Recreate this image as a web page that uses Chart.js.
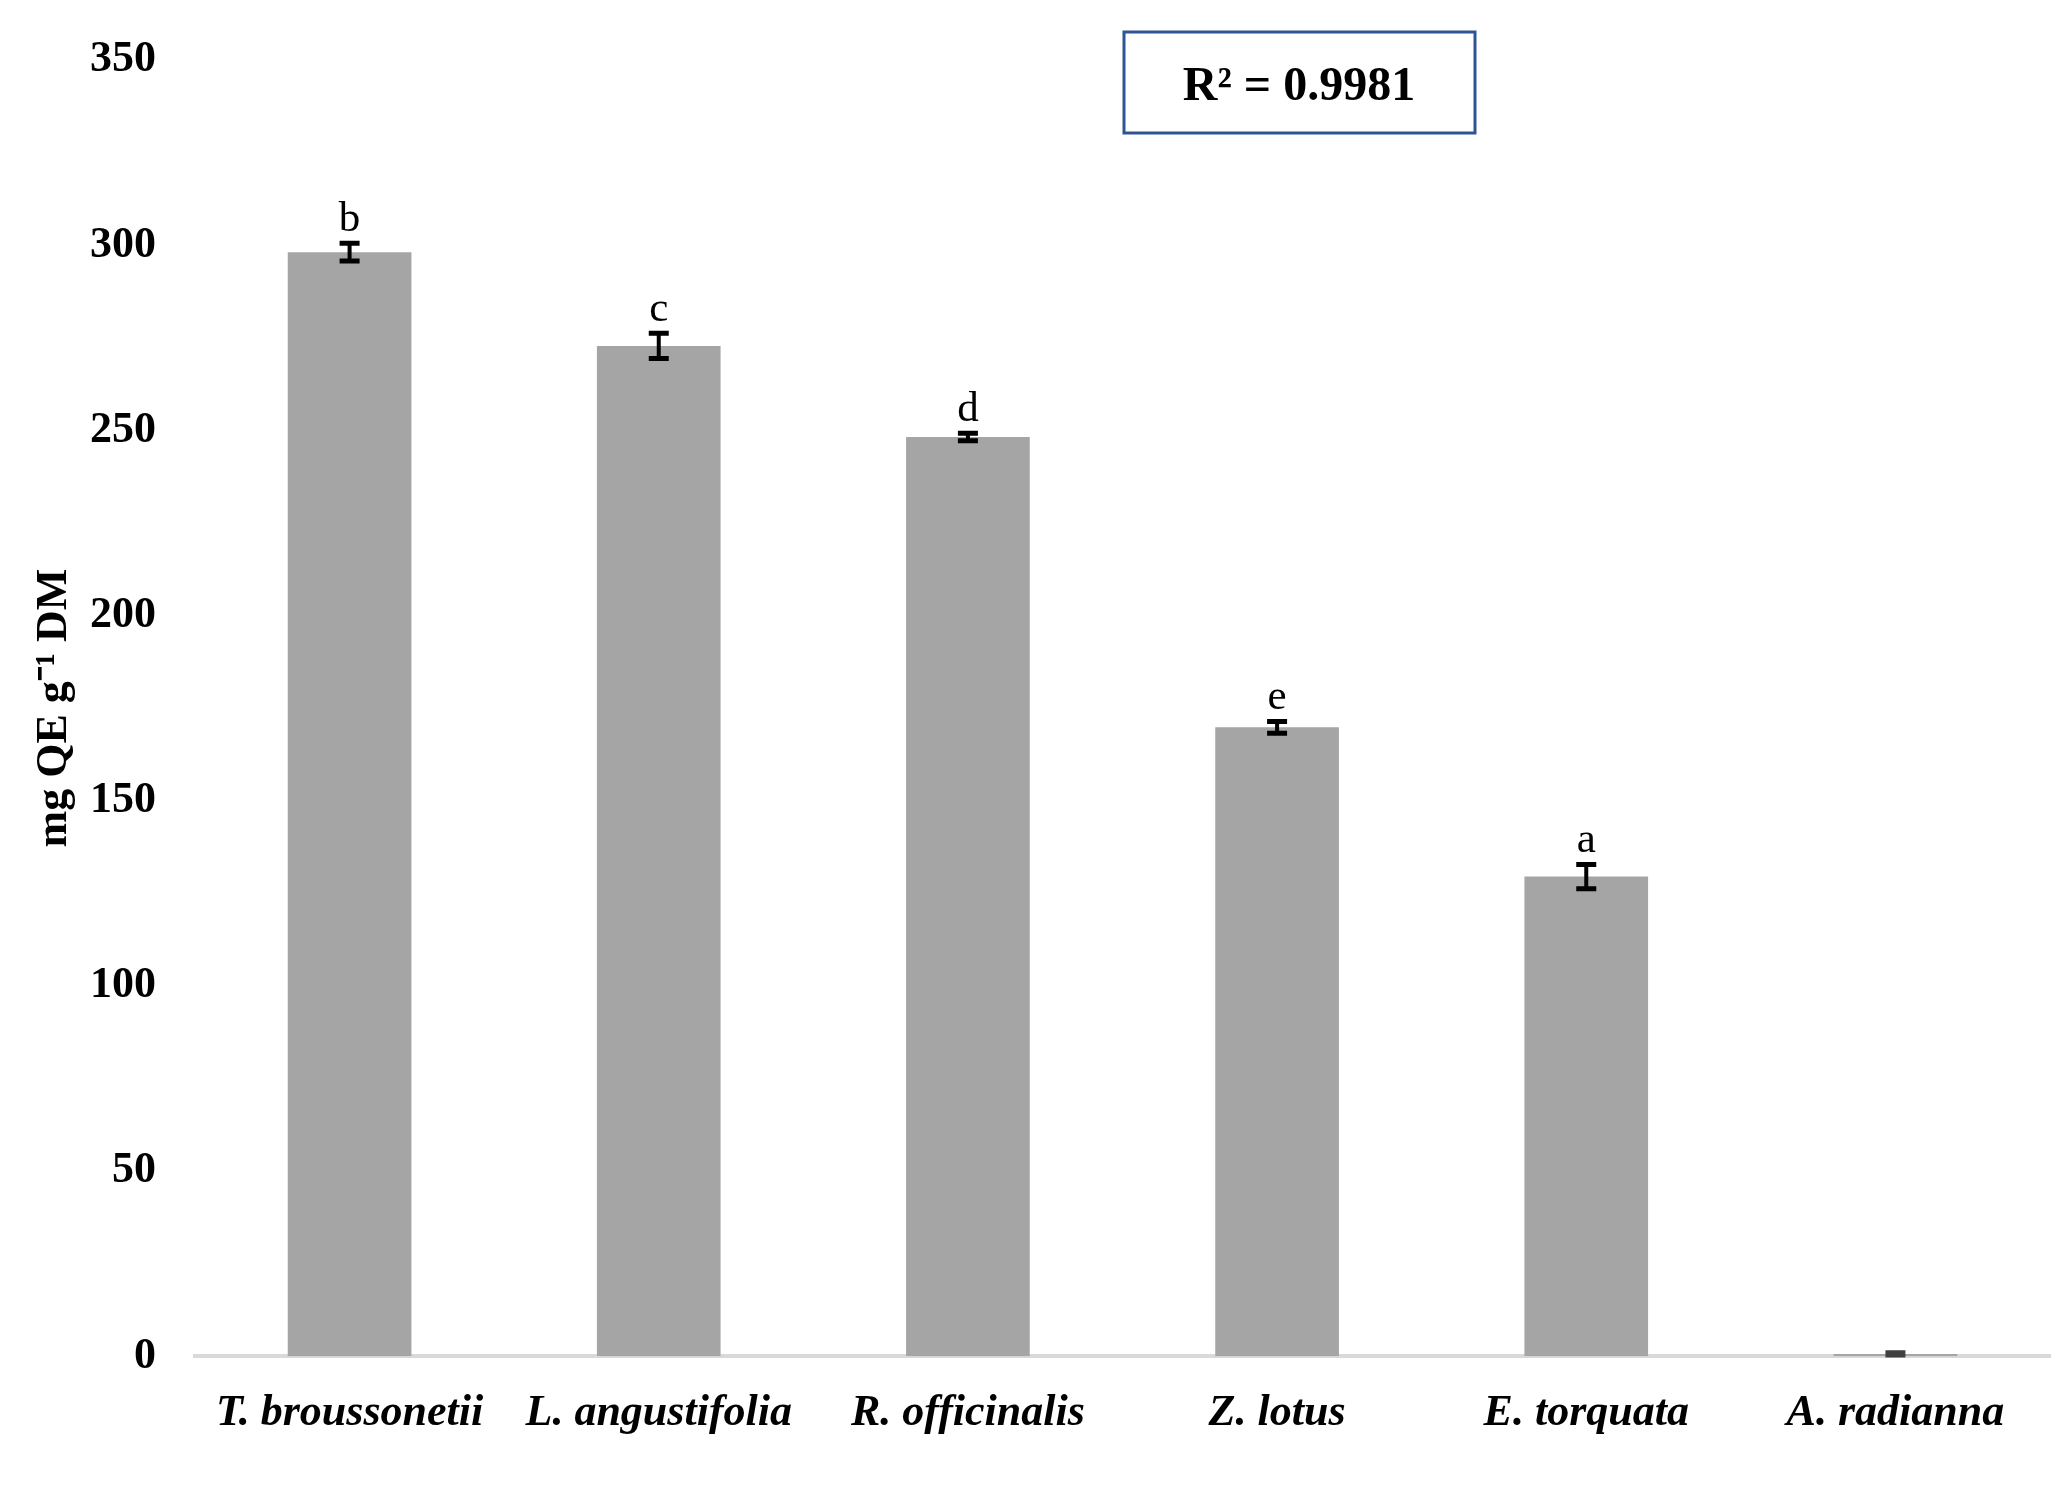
<!DOCTYPE html>
<html>
<head>
<meta charset="utf-8">
<script src="https://cdn.jsdelivr.net/npm/chart.js@4"></script>
<style>
    html, body { margin: 0; padding: 0; background: #fff; }
    #wrap { width: 2061px; height: 1486px; }
</style>
</head>
<body>
<div id="wrap"><canvas id="chart"></canvas></div>
<script>
const species = ['T. broussonetii', 'L. angustifolia', 'R. officinalis', 'Z. lotus', 'E. torquata', 'A. radianna'];
const flavonoids = [298.1, 272.8, 248.2, 169.8, 129.5, 0.6];
const errors = [2.4, 3.4, 1.0, 1.6, 3.3, 0.3];
const letters = ['b', 'c', 'd', 'e', 'a', ''];
const yTicks = [0, 50, 100, 150, 200, 250, 300, 350];

const serif = '"Liberation Serif", "Times New Roman", serif';

// error bars, significance letters and the R² box
const extras = {
    id: 'extras',
    afterDatasetsDraw(chart) {
        const ctx = chart.ctx;
        const y = chart.scales.y;
        const meta = chart.getDatasetMeta(0);
        ctx.save();
        meta.data.forEach((bar, i) => {
            const top = y.getPixelForValue(flavonoids[i] + errors[i]);
            const bot = y.getPixelForValue(flavonoids[i] - errors[i]);
            ctx.strokeStyle = i === 5 ? '#404040' : '#000';
            ctx.lineWidth = 4;
            ctx.beginPath();
            ctx.moveTo(bar.x, top);
            ctx.lineTo(bar.x, bot);
            ctx.stroke();
            ctx.lineWidth = 5;
            ctx.beginPath();
            ctx.moveTo(bar.x - 10, top);
            ctx.lineTo(bar.x + 10, top);
            ctx.moveTo(bar.x - 10, bot);
            ctx.lineTo(bar.x + 10, bot);
            ctx.stroke();

            ctx.fillStyle = '#000';
            ctx.font = '43px ' + serif;
            ctx.textAlign = 'center';
            ctx.textBaseline = 'alphabetic';
            ctx.fillText(letters[i], bar.x, top - 12);
        });

        ctx.strokeStyle = '#2F5496';
        ctx.lineWidth = 3;
        ctx.strokeRect(1124, 32, 351, 101);
        ctx.fillStyle = '#000';
        ctx.font = 'bold 48px ' + serif;
        ctx.textAlign = 'center';
        ctx.fillText('R\u00B2 = 0.9981', 1299, 100);
        ctx.restore();
    }
};

new Chart(document.getElementById('chart'), {
    type: 'bar',
    data: {
        labels: species,
        datasets: [{
            data: flavonoids,
            backgroundColor: '#a5a5a5',
            barPercentage: 0.4,
            categoryPercentage: 1.0
        }]
    },
    options: {
        responsive: true,
        maintainAspectRatio: false,
        animation: false,
        layout: { padding: { top: 60, right: 11, bottom: 23, left: 0 } },
        plugins: {
            legend: { display: false },
            tooltip: { enabled: false }
        },
        scales: {
            x: {
                grid: { display: false },
                border: { display: true, color: '#d9d9d9', width: 4 },
                ticks: {
                    color: '#000',
                    padding: 23,
                    maxRotation: 0,
                    font: { family: serif, size: 44, weight: 'bold', style: 'italic' }
                }
            },
            y: {
                min: 0,
                max: 350,
                afterFit(scale) { scale.width = 195; },
                afterBuildTicks(scale) { scale.ticks = yTicks.map(v => ({ value: v })); },
                grid: { display: false },
                border: { display: false },
                ticks: {
                    color: '#000',
                    padding: 31,
                    font: { family: serif, size: 44, weight: 'bold' }
                },
                title: {
                    display: true,
                    text: 'mg QE g\u207B\u00B9 DM',
                    color: '#000',
                    padding: { top: 28, bottom: 0 },
                    font: { family: serif, size: 44, weight: 'bold' }
                }
            }
        }
    },
    plugins: [extras]
});
</script>
</body>
</html>
